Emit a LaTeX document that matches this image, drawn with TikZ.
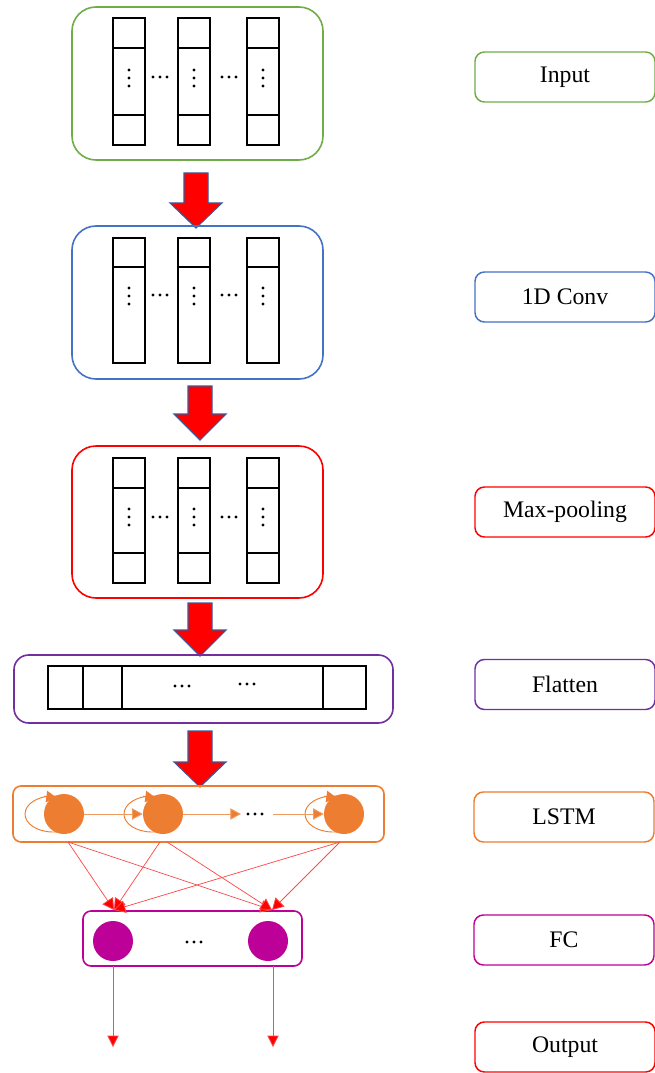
\documentclass[tikz,border=0pt]{standalone}
\usepackage{fontspec}
\setmainfont{Liberation Serif}
\usetikzlibrary{arrows.meta}
\definecolor{cgreen}{HTML}{70AD47}
\definecolor{cblue}{HTML}{4472C4}
\definecolor{cred}{HTML}{FF0000}
\definecolor{cpurple}{HTML}{7030A0}
\definecolor{corange}{HTML}{ED7D31}
\definecolor{corlight}{HTML}{F19A5E}
\definecolor{cmag}{HTML}{BC0098}
\definecolor{cedge}{HTML}{3B5A9A}
\definecolor{clink}{HTML}{FF4A4A}
\newcommand{\blockarrowdown}[4]{% center x, top y, head y, tip y
  \draw[blk] (#1-12,#2) -- (#1+12,#2) -- (#1+12,#3) -- (#1+26,#3) -- (#1,#4)
    -- (#1-26,#3) -- (#1-12,#3) -- cycle;}
\newcommand{\vdotsat}[2]{\fill (#1,#2-8) circle (1.15pt); \fill (#1,#2) circle (1.15pt); \fill (#1,#2+8) circle (1.15pt);}
\newcommand{\hdotsat}[2]{\fill (#1-7,#2) circle (1.15pt); \fill (#1,#2) circle (1.15pt); \fill (#1+7,#2) circle (1.15pt);}
\begin{document}
\begin{tikzpicture}[x=0.75pt,y=-0.75pt,
  bigbox/.style={line width=1.2pt, rounded corners=18pt},
  cell/.style={draw=black, line width=1.1pt},
  blk/.style={fill=red, draw=cedge, line width=0.8pt, line join=miter},
  lab/.style={draw, line width=1.1pt, rounded corners=7pt, minimum width=135pt,
    minimum height=37.5pt, inner sep=0pt, font=\fontsize{17.8}{20}\selectfont},
  lnode/.style={circle, fill=corange, draw=none, minimum size=30pt, inner sep=0pt},
  fnode/.style={circle, fill=cmag, draw=none, minimum size=30pt, inner sep=0pt},
  orarrow/.style={draw=corlight, line width=0.7pt, -{Triangle[length=8pt,width=8.5pt,fill=corange]}},
  rdlink/.style={draw=clink, line width=0.55pt, -{Triangle[length=8.5pt,width=9.5pt,fill=red]}},
  outlink/.style={draw=clink, line width=0.6pt, -{Triangle[length=8.5pt,width=8.5pt,fill=red]}}
]
\useasboundingbox (0,0) rectangle (655,1073);
\fill[white] (0,0) rectangle (655,1073);

% ---------- Input ----------
\draw[bigbox, draw=cgreen] (72,7) rectangle (323,160);
\foreach \x in {113,178,247} {
  \draw[cell] (\x,18) rectangle ++(32,127);
  \draw[cell] (\x,48) -- ++(32,0);
  \draw[cell] (\x,115) -- ++(32,0);
  \vdotsat{\x+16}{78}
}
\hdotsat{160}{77}
\hdotsat{229}{77}

\blockarrowdown{196}{173}{203}{228}

% ---------- 1D Conv ----------
\draw[bigbox, draw=cblue] (72,226) rectangle (323,379);
\foreach \x in {113,178,247} {
  \draw[cell] (\x,238) rectangle ++(32,125);
  \draw[cell] (\x,267) -- ++(32,0);
  \vdotsat{\x+16}{296}
}
\hdotsat{160}{295}
\hdotsat{229}{295}

\blockarrowdown{200}{386}{414}{440}

% ---------- Max-pooling ----------
\draw[bigbox, draw=cred] (72,446) rectangle (323,598);
\foreach \x in {113,178,247} {
  \draw[cell] (\x,458) rectangle ++(32,125);
  \draw[cell] (\x,488) -- ++(32,0);
  \draw[cell] (\x,553) -- ++(32,0);
  \vdotsat{\x+16}{517}
}
\hdotsat{160}{517}
\hdotsat{229}{517}

\blockarrowdown{200}{603}{630}{656}

% ---------- Flatten ----------
\draw[draw=cpurple, line width=1.2pt, rounded corners=11pt] (14,655) rectangle (393,723);
\draw[cell] (48,666) rectangle (366,709);
\draw[cell] (83,666) -- (83,709);
\draw[cell] (122,666) -- (122,709);
\draw[cell] (323,666) -- (323,709);
\hdotsat{182}{686}
\hdotsat{247}{684}

\blockarrowdown{200}{731}{762}{787}

% ---------- LSTM ----------
\draw[draw=corange, line width=1.2pt, rounded corners=6pt] (13,786) rectangle (384,842);
\foreach \c in {64,163,344} {
  \draw[corange, line width=0.7pt] (\c-11,814) ellipse [x radius=21pt, y radius=13.5pt];
  \draw[draw=corange, line width=0.7pt, -{Triangle[length=8pt,width=8.5pt,fill=corange]}] (\c-20,796.2) -- (\c-7,798);
}
\node[lnode] (l1) at (64,814) {};
\node[lnode] (l2) at (163,814) {};
\node[lnode] (l3) at (344,814) {};
\coordinate (ldots) at (241,814);
\coordinate (lcont) at (273,814);
\draw[orarrow] (l1.east) -- (l2.west);
\draw[orarrow] (l2.east) -- (ldots);
\hdotsat{255}{814}
\draw[orarrow] (lcont) -- (l3.west);

% ---------- FC ----------
\draw[draw=cmag, line width=1.2pt, rounded corners=6pt] (83,911) rectangle (302,966);
\node[fnode] (f1) at (113,941) {};
\node[fnode] (f2) at (268,941) {};
\hdotsat{194}{942}

\coordinate (s1) at (68,842);
\coordinate (s2) at (160,842);
\coordinate (s2b) at (167,842);
\coordinate (s3) at (340,842);
\coordinate (t1) at (114,910);
\coordinate (t2) at (272,910);
\draw[rdlink] (s1) -- (t1);
\draw[rdlink] (s1) -- (t2);
\draw[rdlink] (s2) -- (t1);
\draw[rdlink] (s2b) -- (t2);
\draw[rdlink] (s3) -- (t1);
\draw[rdlink] (s3) -- (t2);

\coordinate (o1) at (113,1047);
\coordinate (o2) at (273,1047);
\coordinate (ob1) at (113,966);
\coordinate (ob2) at (273,966);
\draw[outlink] (ob1) -- (o1);
\draw[outlink] (ob2) -- (o2);

% ---------- Labels ----------
\node[lab, draw=cgreen] (labIn) at (565,77) {Input};
\node[lab, draw=cblue] (labConv) at (565,297) {1D Conv};
\node[lab, draw=cred] (labPool) at (565,512) {Max-pooling};
\node[lab, draw=cpurple] (labFlat) at (565,684.5) {Flatten};
\node[lab, draw=corange] (labLstm) at (564,817) {LSTM};
\node[lab, draw=cmag] (labFc) at (564,940) {FC};
\node[lab, draw=cred] (labOut) at (565,1047) {Output};
\end{tikzpicture}
\end{document}
